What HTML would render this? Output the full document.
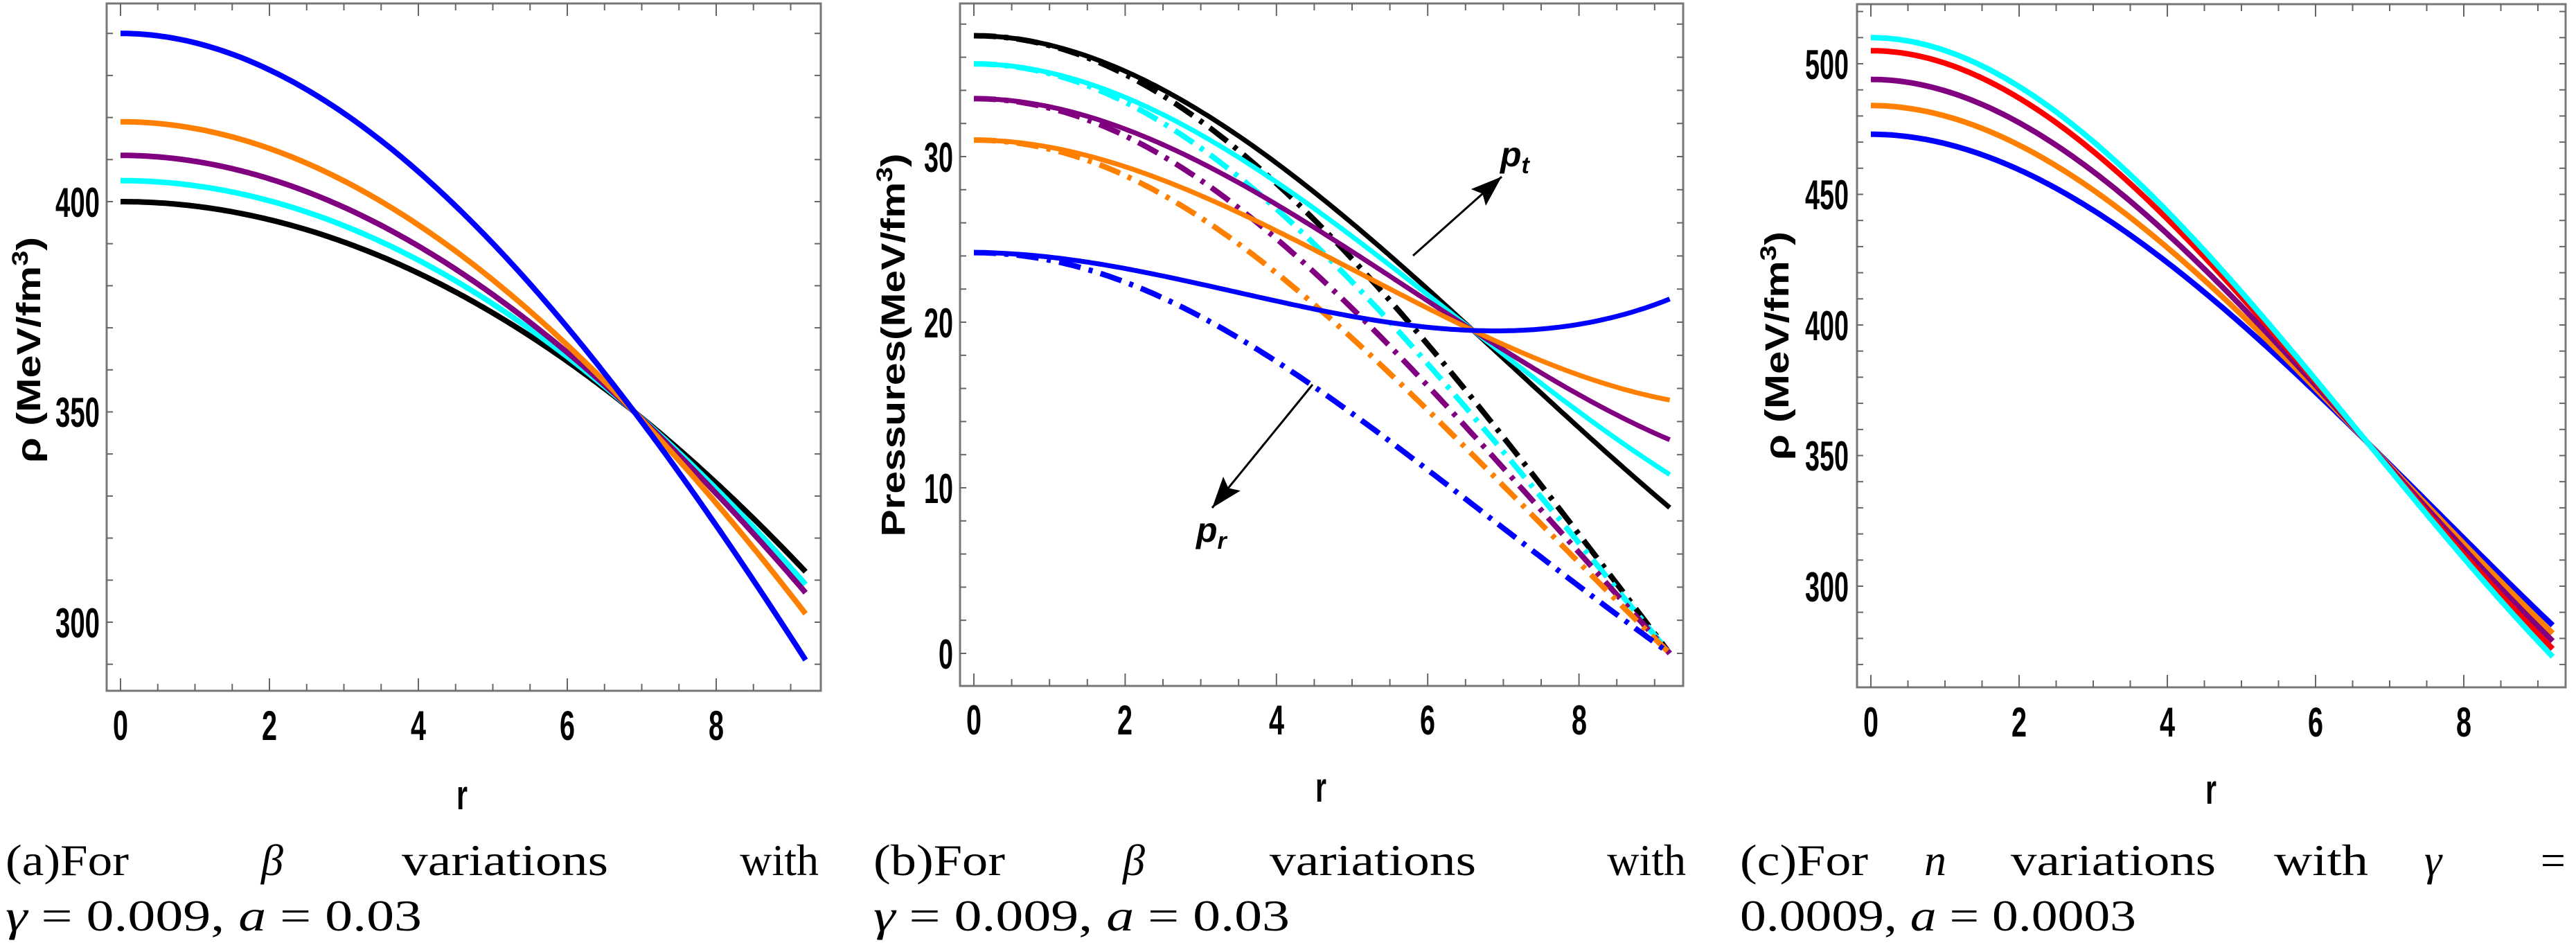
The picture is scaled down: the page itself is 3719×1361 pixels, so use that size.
<!DOCTYPE html>
<html><head><meta charset="utf-8"><style>
html,body{margin:0;padding:0;background:#fff;}
svg{display:block;}
.tl{font-family:"Liberation Sans",sans-serif;font-weight:bold;font-size:60px;fill:#000;}
.al{font-family:"Liberation Sans",sans-serif;font-weight:bold;font-size:48px;fill:#000;}
.cap{font-family:"Liberation Serif",serif;font-size:64px;fill:#000;}
.it{font-style:italic;}
</style></head><body>
<svg id="s" width="3719" height="1361" viewBox="0 0 3719 1361" xmlns="http://www.w3.org/2000/svg">
<rect width="3719" height="1361" fill="#fff"/>
<g id="g"></g>
<g class="tl">
<text x="144" y="313" text-anchor="end" textLength="64" lengthAdjust="spacingAndGlyphs">400</text>
<text x="144" y="616" text-anchor="end" textLength="64" lengthAdjust="spacingAndGlyphs">350</text>
<text x="144" y="920" text-anchor="end" textLength="64" lengthAdjust="spacingAndGlyphs">300</text>
<text x="174" y="1068" text-anchor="middle" textLength="22" lengthAdjust="spacingAndGlyphs">0</text>
<text x="389" y="1068" text-anchor="middle" textLength="22" lengthAdjust="spacingAndGlyphs">2</text>
<text x="604" y="1068" text-anchor="middle" textLength="22" lengthAdjust="spacingAndGlyphs">4</text>
<text x="819" y="1068" text-anchor="middle" textLength="22" lengthAdjust="spacingAndGlyphs">6</text>
<text x="1034" y="1068" text-anchor="middle" textLength="22" lengthAdjust="spacingAndGlyphs">8</text>
<text x="667" y="1168" text-anchor="middle" textLength="16" lengthAdjust="spacingAndGlyphs">r</text>
<text x="1376" y="248" text-anchor="end" textLength="42" lengthAdjust="spacingAndGlyphs">30</text>
<text x="1376" y="487" text-anchor="end" textLength="42" lengthAdjust="spacingAndGlyphs">20</text>
<text x="1376" y="726" text-anchor="end" textLength="42" lengthAdjust="spacingAndGlyphs">10</text>
<text x="1376" y="965" text-anchor="end" textLength="21" lengthAdjust="spacingAndGlyphs">0</text>
<text x="1406" y="1060" text-anchor="middle" textLength="22" lengthAdjust="spacingAndGlyphs">0</text>
<text x="1624" y="1060" text-anchor="middle" textLength="22" lengthAdjust="spacingAndGlyphs">2</text>
<text x="1843" y="1060" text-anchor="middle" textLength="22" lengthAdjust="spacingAndGlyphs">4</text>
<text x="2061" y="1060" text-anchor="middle" textLength="22" lengthAdjust="spacingAndGlyphs">6</text>
<text x="2280" y="1060" text-anchor="middle" textLength="22" lengthAdjust="spacingAndGlyphs">8</text>
<text x="1907" y="1157" text-anchor="middle" textLength="16" lengthAdjust="spacingAndGlyphs">r</text>
<text x="2669" y="114" text-anchor="end" textLength="63" lengthAdjust="spacingAndGlyphs">500</text>
<text x="2669" y="302" text-anchor="end" textLength="63" lengthAdjust="spacingAndGlyphs">450</text>
<text x="2669" y="491" text-anchor="end" textLength="63" lengthAdjust="spacingAndGlyphs">400</text>
<text x="2669" y="679" text-anchor="end" textLength="63" lengthAdjust="spacingAndGlyphs">350</text>
<text x="2669" y="868" text-anchor="end" textLength="63" lengthAdjust="spacingAndGlyphs">300</text>
<text x="2701" y="1063" text-anchor="middle" textLength="22" lengthAdjust="spacingAndGlyphs">0</text>
<text x="2915" y="1063" text-anchor="middle" textLength="22" lengthAdjust="spacingAndGlyphs">2</text>
<text x="3129" y="1063" text-anchor="middle" textLength="22" lengthAdjust="spacingAndGlyphs">4</text>
<text x="3343" y="1063" text-anchor="middle" textLength="22" lengthAdjust="spacingAndGlyphs">6</text>
<text x="3557" y="1063" text-anchor="middle" textLength="22" lengthAdjust="spacingAndGlyphs">8</text>
<text x="3192" y="1160" text-anchor="middle" textLength="16" lengthAdjust="spacingAndGlyphs">r</text>
</g>
<text class="al" transform="translate(58,505) rotate(-90)" text-anchor="middle" textLength="326" lengthAdjust="spacingAndGlyphs">ρ (MeV/fm<tspan dy="-18" font-size="32">3</tspan><tspan dy="18">)</tspan></text>
<text class="al" transform="translate(1306,498) rotate(-90)" text-anchor="middle" textLength="553" lengthAdjust="spacingAndGlyphs">Pressures(MeV/fm<tspan dy="-18" font-size="32">3</tspan><tspan dy="18">)</tspan></text>
<text class="al" transform="translate(2582,499) rotate(-90)" text-anchor="middle" textLength="330" lengthAdjust="spacingAndGlyphs">ρ (MeV/fm<tspan dy="-18" font-size="32">3</tspan><tspan dy="18">)</tspan></text>
<text x="2166" y="240" font-family="Liberation Sans,sans-serif" font-weight="bold" font-style="italic" font-size="50">p<tspan font-size="34" dy="10">t</tspan></text>
<text x="1727" y="782" font-family="Liberation Sans,sans-serif" font-weight="bold" font-style="italic" font-size="50">p<tspan font-size="34" dy="10">r</tspan></text>
<g class="cap">
<text x="8" y="1263" textLength="178" lengthAdjust="spacingAndGlyphs">(a)For</text>
<text x="377" y="1263" class="it">β</text>
<text x="580" y="1263" textLength="298" lengthAdjust="spacingAndGlyphs">variations</text>
<text x="1182" y="1263" text-anchor="end">with</text>
<text x="8" y="1343" textLength="601" lengthAdjust="spacingAndGlyphs"><tspan class="it">γ</tspan> = 0.009,  <tspan class="it">a</tspan> = 0.03</text>
<text x="1261" y="1263" textLength="190" lengthAdjust="spacingAndGlyphs">(b)For</text>
<text x="1621" y="1263" class="it">β</text>
<text x="1833" y="1263" textLength="298" lengthAdjust="spacingAndGlyphs">variations</text>
<text x="2434" y="1263" text-anchor="end">with</text>
<text x="1261" y="1343" textLength="601" lengthAdjust="spacingAndGlyphs"><tspan class="it">γ</tspan> = 0.009,  <tspan class="it">a</tspan> = 0.03</text>
<text x="2512" y="1263" textLength="185" lengthAdjust="spacingAndGlyphs">(c)For</text>
<text x="2778" y="1263" class="it">n</text>
<text x="2903" y="1263" textLength="296" lengthAdjust="spacingAndGlyphs">variations</text>
<text x="3283" y="1263" textLength="136" lengthAdjust="spacingAndGlyphs">with</text>
<text x="3500" y="1263" class="it">γ</text>
<text x="3704" y="1263" text-anchor="end">=</text>
<text x="2512" y="1343" textLength="572" lengthAdjust="spacingAndGlyphs">0.0009,  <tspan class="it">a</tspan> = 0.0003</text>
</g>
</svg>
<script>
(function(){
var NS="http://www.w3.org/2000/svg",g=document.getElementById("g");
function el(t,a){var e=document.createElementNS(NS,t);for(var k in a)e.setAttribute(k,a[k]);g.appendChild(e);return e;}
function cub(c,rc,vc,R,e){var det=rc*rc*R*R*R-rc*rc*rc*R*R;var b=((vc-c)*R*R*R-(e-c)*rc*rc*rc)/det;var d=(rc*rc*(e-c)-R*R*(vc-c))/det;return function(r){return c+b*r*r+d*r*r*r;};}
function path(P,f,col,w,dash){var s="";for(var i=0;i<=200;i++){var r=9.2*i/200;s+=(i?"L":"M")+P.X(r).toFixed(1)+" "+P.Y(f(r)).toFixed(1);}
 var a={d:s,fill:"none",stroke:col,"stroke-width":w,"stroke-linejoin":"round"};if(dash)a["stroke-dasharray"]=dash;el("path",a);}
function frame(P,ymin,ymax,ystep){
 el("rect",{x:P.L,y:P.T,width:P.R-P.L,height:P.B-P.T,fill:"none",stroke:"#777","stroke-width":3});
 for(var v=0;v<=9.01;v+=0.5){var x=P.X(v),len=(Math.abs(v%2)<0.01)?18:10;
  el("line",{x1:x,x2:x,y1:P.B,y2:P.B-len,stroke:"#666","stroke-width":2});
  el("line",{x1:x,x2:x,y1:P.T,y2:P.T+len,stroke:"#666","stroke-width":2});}
 for(var v=ymin;v<=ymax+1e-6;v+=ystep){var y=P.Y(v);if(y<P.T+2||y>P.B-2)continue;
  el("line",{x1:P.L,x2:P.L+9,y1:y,y2:y,stroke:"#666","stroke-width":2});
  el("line",{x1:P.R,x2:P.R-9,y1:y,y2:y,stroke:"#666","stroke-width":2});}
}
var A={L:154,R:1185,T:5,B:997,X:function(r){return 174+r*107.5;},Y:function(v){return 898-(v-300)*6.07;}};
var B={L:1386,R:2430,T:5,B:990,X:function(r){return 1406+r*109.2;},Y:function(v){return 943-v*23.9;}};
var C={L:2681,R:3704,T:6,B:992,X:function(r){return 2701+r*107;},Y:function(v){return 92+(500-v)*3.77;}};
frame(A,280,450,10);frame(B,-2,40,2);frame(C,260,520,10);
[["#000",400,312],["#0ff",405,309],["#800080",411,307],["#ff8000",419,302],["#0000ff",440,291]].forEach(function(s){
 path(A,cub(s[1],6.9,350,9.2,s[2]),s[0],8);});
var dd="32 12 6 12";
[["#000",37.3,0.35],["#0ff",35.6,0.4],["#800080",33.5,0.45],["#ff8000",31,0.5],["#0000ff",24.2,0.6]].forEach(function(s){
 path(B,function(r){var x=r/9.2;return s[1]*(1-x*x)/(1+s[2]*x*x);},s[0],8,dd);});
[["#000",37.3,8.8],["#0ff",35.6,10.8],["#800080",33.5,12.9],["#ff8000",31,15.3],["#0000ff",24.2,21.4]].forEach(function(s){
 path(B,cub(s[1],6.6,19.5,9.2,s[2]),s[0],7);});
function arrow(x1,y1,x2,y2){el("line",{x1:x1,y1:y1,x2:x2,y2:y2,stroke:"#000","stroke-width":3});
 var dx=x2-x1,dy=y2-y1,L=Math.sqrt(dx*dx+dy*dy),ux=dx/L,uy=dy/L,hl=45,hw=16;
 var bx=x2-ux*hl,by=y2-uy*hl;
 el("polygon",{points:x2+","+y2+" "+(bx-uy*hw)+","+(by+ux*hw)+" "+(bx+ux*8)+","+(by+uy*8)+" "+(bx+uy*hw)+","+(by-ux*hw),fill:"#000"});}
arrow(2040,369,2168,255);arrow(1895,555,1750,733);
[["#0000ff",473,285],["#ff8000",484,282],["#800080",494,279],["#ff0000",505,276],["#0ff",510,273]].forEach(function(s){
 path(C,cub(s[1],6.7,355,9.2,s[2]),s[0],8);});
})();
</script>
</body></html>
